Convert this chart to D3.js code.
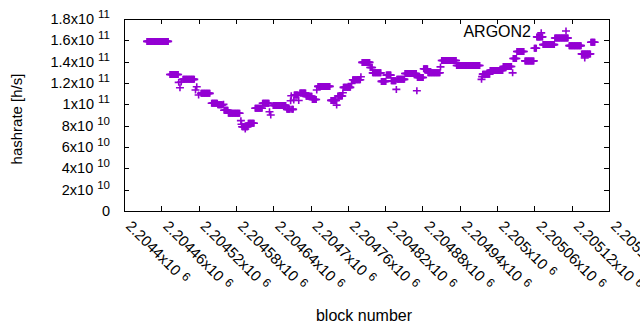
<!DOCTYPE html>
<html><head><meta charset="utf-8">
<script src="https://cdn.jsdelivr.net/npm/d3@7"></script>
<style>html,body{margin:0;padding:0;background:#fff}svg{display:block}</style>
</head><body>
<script>
// ---- data (block offset from 2204400, hashrate in units of 1e9 h/s) ----
const blockBase = 2204400;
const runStart = [37,74,88,90,92,95,115,117,120,124,141,151,160,161,168,188,189,190,195,196,200,211,223,234,236,240,262,268,269,270,273,274,281,283,293,303,310,312,333,342,344,352,353,366,368,381,383,396,400,414,422,430,438,439,452,471,472,482,489,509,511,535,575,576,577,589,610,625,626,632,645,660,664,671,672,674,693,716,736,741,751];
const runEnd   = [71,87,88,90,92,113,115,117,120,138,150,158,160,167,186,188,189,194,195,199,209,222,233,234,236,260,267,268,269,272,273,280,281,292,302,309,310,331,341,342,351,352,364,366,380,381,395,399,413,421,429,437,438,451,470,471,481,488,508,509,534,572,575,576,588,609,623,625,631,643,659,663,670,671,673,692,714,735,750,741,757];
const runHash  = [159,128,120.6,115.5,121,123.4,113.4,116.5,108.7,110.3,101,99.5,100,94.4,91.6,84.7,81.3,79,76.9,79,82.2,96.3,101,93.1,90,99,95.3,103.4,108,95.3,104,108.7,103.6,110.6,107.5,104.5,113.4,116.8,103.7,99.3,107.8,110.9,115.9,119.6,123,125.8,139.3,134.6,129.5,121.5,127.4,122,114,123.4,128.9,112.7,125.2,133.3,129.6,135.1,141.1,136.4,123.4,126,128.3,131.8,135.5,129.5,143,149.5,140.7,152.6,163.2,167,163.2,156,162.2,155,147.3,143.5,158.2];

const yTicks = [0,2e10,4e10,6e10,8e10,1e11,1.2e11,1.4e11,1.6e11,1.8e11];
const yTickMant = ["0","2","4","6","8","1","1.2","1.4","1.6","1.8"];
const yTickExp  = ["","10","10","10","10","11","11","11","11","11"];
const xTicks = [2204400,2204460,2204520,2204580,2204640,2204700,2204760,2204820,2204880,2204940,2205000,2205060,2205120,2205180];
const xTickMant = ["2.2044","2.20446","2.20452","2.20458","2.20464","2.2047","2.20476","2.20482","2.20488","2.20494","2.205","2.20506","2.20512","2.20518"];
const xTickExp = "6";
const seriesName = "ARGON2";

// expand runs into one point per block
const points = [];
runStart.forEach((s,i)=>{ for(let b=s;b<=runEnd[i];b++) points.push({b:blockBase+b, h:runHash[i]*1e9}); });

const W=640,H=330, L=124, R=609, T=19, B=211;
const color="#9400d3";
const font="'Liberation Sans', Arial, sans-serif";
const svg=d3.select("body").append("svg").attr("width",W).attr("height",H)
  .style("font-family",font);

const x=d3.scaleLinear().domain([2204400,2205180]).range([L,R]);
const y=d3.scaleLinear().domain([0,1.8e11]).range([B,T]);

// ticks inward on all four sides
const tl=5;
const g=svg.append("g").attr("stroke","#000").attr("stroke-width",1).attr("shape-rendering","crispEdges");
yTicks.forEach(v=>{
  const yy=Math.round(y(v))+0.5;
  g.append("line").attr("x1",L).attr("x2",L+tl).attr("y1",yy).attr("y2",yy);
  g.append("line").attr("x1",R-tl).attr("x2",R).attr("y1",yy).attr("y2",yy);
});
xTicks.forEach(v=>{
  const xx=Math.round(x(v))+0.5;
  g.append("line").attr("x1",xx).attr("x2",xx).attr("y1",B).attr("y2",B-tl);
  g.append("line").attr("x1",xx).attr("x2",xx).attr("y1",T).attr("y2",T+tl);
});
g.append("rect").attr("x",L+0.5).attr("y",T+0.5).attr("width",R-L).attr("height",B-T).attr("fill","none");

// y tick labels
const fs=14.5, sfs=11.5;
yTicks.forEach((v,i)=>{
  const t=svg.append("text").attr("x",110).attr("y",y(v)+5).attr("text-anchor","end")
    .attr("font-size",fs).attr("fill","#000");
  if(yTickExp[i]===""){ t.text(yTickMant[i]); return; }
  t.append("tspan").text(yTickMant[i]+"x10");
  t.append("tspan").attr("dx",4).attr("dy",-6).attr("font-size",sfs).text(yTickExp[i]);
});

// x tick labels rotated
xTicks.forEach((v,i)=>{
  const xx=x(v)+1, yy=B+16;
  const t=svg.append("text").attr("transform",`translate(${xx},${yy}) rotate(45)`)
    .attr("font-size",15).attr("fill","#000");
  t.append("tspan").text(xTickMant[i]+"x10");
  t.append("tspan").attr("dx",5).attr("dy",-4).attr("font-size",sfs+0.5).text(xTickExp);
});

// axis titles
svg.append("text").attr("transform",`translate(22,${(T+B)/2+4}) rotate(-90)`).attr("text-anchor","middle")
  .attr("font-size",15).text("hashrate [h/s]");
svg.append("text").attr("x",364).attr("y",321).attr("text-anchor","middle")
  .attr("font-size",16).text("block number");

// points
const plus="M-4,0H4M0,-3.5V3.5";
svg.append("g").selectAll("path").data(points).join("path")
  .attr("transform",d=>`translate(${x(d.b)},${y(d.h)})`)
  .attr("d",plus).attr("stroke",color).attr("stroke-width",1.6).attr("fill","none");

// legend
svg.append("text").attr("x",531).attr("y",37).attr("text-anchor","end").attr("font-size",16).text(seriesName);
svg.append("path").attr("transform","translate(566,31)").attr("d",plus).attr("stroke",color).attr("stroke-width",1.6);
</script>
</body></html>
